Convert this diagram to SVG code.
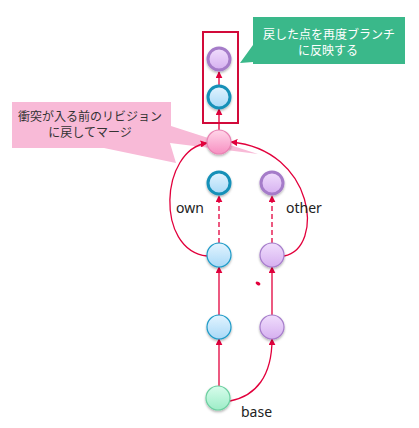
<svg xmlns="http://www.w3.org/2000/svg" width="419" height="428" viewBox="0 0 419 428">
<defs>
<linearGradient id="gBlue" x1="0" y1="0" x2="0" y2="1"><stop offset="0" stop-color="#E3F4FF"/><stop offset="1" stop-color="#A9D9F7"/></linearGradient>
<linearGradient id="gPurple" x1="0" y1="0" x2="0" y2="1"><stop offset="0" stop-color="#F0DEFC"/><stop offset="1" stop-color="#D6B0F0"/></linearGradient>
<linearGradient id="gPink" x1="0" y1="0" x2="0" y2="1"><stop offset="0" stop-color="#FFD6E9"/><stop offset="1" stop-color="#F78FC1"/></linearGradient>
<linearGradient id="gGreen" x1="0" y1="0" x2="0" y2="1"><stop offset="0" stop-color="#D8FCEC"/><stop offset="1" stop-color="#9DEDC7"/></linearGradient>
<filter id="sh" x="-30%" y="-30%" width="160%" height="170%"><feDropShadow dx="0" dy="1.5" stdDeviation="1.2" flood-color="#000" flood-opacity="0.3"/></filter>
<marker id="ah" viewBox="0 0 10 10" refX="9" refY="5" markerWidth="7" markerHeight="7" markerUnits="userSpaceOnUse" orient="auto"><path d="M0,0 L10,5 L0,10 Z" fill="#E2003C"/></marker>
</defs>
<style>
.c{fill:none;stroke:#E2003C;stroke-width:1.3}
.d{fill:none;stroke:#E2003C;stroke-width:1.3;stroke-dasharray:5 3}
.blue{fill:url(#gBlue);stroke:#1E9BC8;stroke-width:1.2;filter:url(#sh)}
.blueB{fill:url(#gBlue);stroke:#1590B8;stroke-width:3;filter:url(#sh)}
.pur{fill:url(#gPurple);stroke:#A67DCB;stroke-width:1.2;filter:url(#sh)}
.purB{fill:url(#gPurple);stroke:#A57BC9;stroke-width:3;filter:url(#sh)}
.pink{fill:url(#gPink);stroke:#E983B3;stroke-width:1.2;filter:url(#sh)}
.green{fill:url(#gGreen);stroke:#6CCFA0;stroke-width:1.2;filter:url(#sh)}
.lbl{font-family:"Noto Sans","Liberation Sans",sans-serif;font-size:14px;fill:#222}
.jp{font-family:"Noto Sans CJK JP","Noto Sans",sans-serif;font-size:12px;text-anchor:middle}
</style>

<g id="callout-merge">
<path d="M12,102 H171 V126 L258,154 L170,143 L176,163 L104,148 H12 Z" fill="#F8BAD7"/>
<text class="jp" x="90" y="121" fill="#333">衝突が入る前のリビジョン</text>
<text class="jp" x="90" y="137" fill="#333">に戻してマージ</text>
</g>

<g id="callout-reflect">
<path d="M253,17 H405 V64 H253 V62 L240,63 L253,45 Z" fill="#3AB88A"/>
<text class="jp" x="329" y="39" fill="#fff">戻した点を再度ブランチ</text>
<text class="jp" x="328" y="55" fill="#fff">に反映する</text>
</g>

<g id="highlight">
<rect x="203" y="32" width="35" height="91" fill="none" stroke="#D20A3A" stroke-width="2"/>
</g>

<g id="connectors">
<line class="c" x1="219" y1="386" x2="219" y2="339" marker-end="url(#ah)"/>
<path class="c" d="M230,401 C256,396 272,376 272,339" marker-end="url(#ah)"/>
<line class="c" x1="219" y1="315" x2="219" y2="267" marker-end="url(#ah)"/>
<line class="c" x1="272" y1="315" x2="272" y2="267" marker-end="url(#ah)"/>
<line class="d" x1="219" y1="243" x2="219" y2="196" marker-end="url(#ah)"/>
<line class="d" x1="272" y1="243" x2="272" y2="196" marker-end="url(#ah)"/>
<path class="c" d="M207,256 C155,250 160,150 207,143" marker-end="url(#ah)"/>
<path class="c" d="M284,256 C325,248 315,150 231,142" marker-end="url(#ah)"/>
<line class="c" x1="219" y1="130" x2="219" y2="109" marker-end="url(#ah)"/>
<line class="c" x1="219" y1="85" x2="219" y2="72" marker-end="url(#ah)"/>
</g>

<g id="n-top-purple"><circle class="purB" cx="219" cy="59" r="11"/></g>
<g id="n-top-blue"><circle class="blueB" cx="219" cy="97" r="11"/></g>
<g id="n-merge"><circle class="pink" cx="219" cy="142" r="12"/></g>
<g id="n-own-head"><circle class="blueB" cx="219" cy="183" r="11"/></g>
<g id="n-other-head"><circle class="purB" cx="272" cy="183" r="11"/></g>
<g id="n-own-2"><circle class="blue" cx="219" cy="255" r="12"/></g>
<g id="n-other-2"><circle class="pur" cx="272" cy="255" r="12"/></g>
<g id="n-own-1"><circle class="blue" cx="219" cy="327" r="12"/></g>
<g id="n-other-1"><circle class="pur" cx="272" cy="327" r="12"/></g>
<g id="n-base"><circle class="green" cx="218" cy="398" r="12"/></g>

<g id="labels">
<text class="lbl" x="176" y="213">own</text>
<text class="lbl" x="286" y="213">other</text>
<text class="lbl" x="241" y="417">base</text>
</g>
<ellipse cx="258" cy="283.5" rx="2.6" ry="1.6" transform="rotate(30 258 283.5)" fill="#E2003C"/>
</svg>
